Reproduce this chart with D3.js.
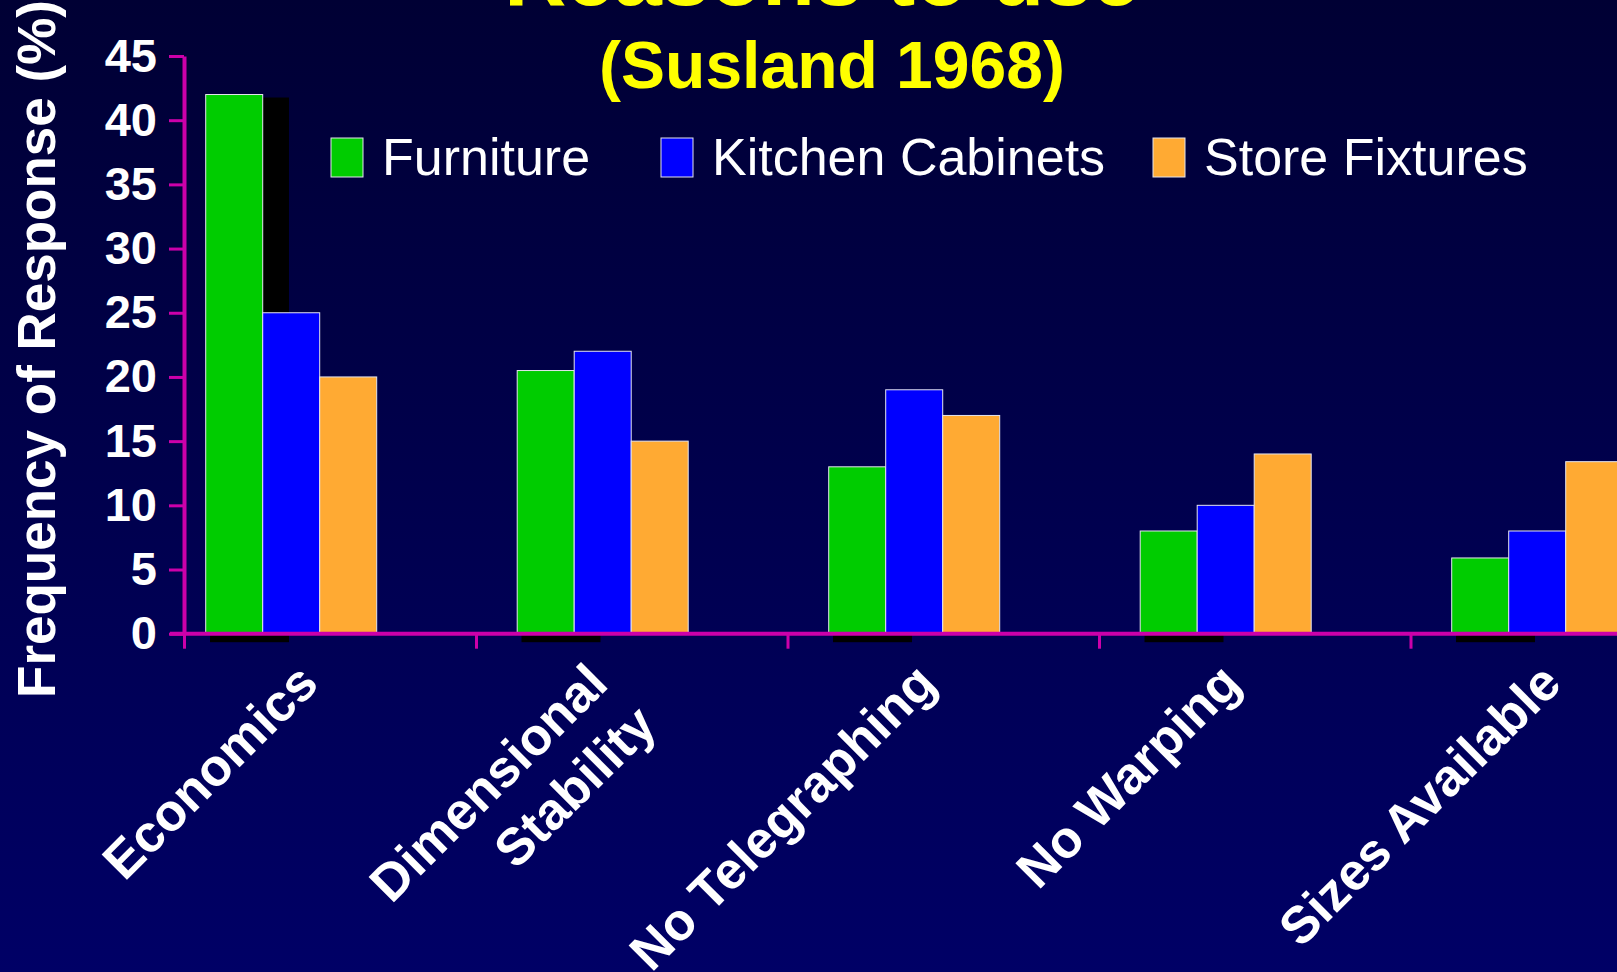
<!DOCTYPE html>
<html>
<head>
<meta charset="utf-8">
<script src="https://cdn.jsdelivr.net/npm/d3@7"></script>
<style>
  body { margin: 0; background: #000040; overflow: hidden; }
  svg { display: block; }
  text { font-family: "Liberation Sans", Arial, sans-serif; }
</style>
</head>
<body>
<div id="chart"></div>
<script>
// values (% of responses)
var categories = ["Economics", "Dimensional\nStability", "No Telegraphing", "No Warping", "Sizes Available"];
var series = ["Furniture", "Kitchen Cabinets", "Store Fixtures"];
var furniture = [42, 20.5, 13, 8, 5.9];
var kitchenCabinets = [25, 22, 19, 10, 8];
var storeFixtures = [20, 15, 17, 14, 13.4];
var yTicks = [0, 5, 10, 15, 20, 25, 30, 35, 40, 45];
var titleLines = ["Reasons to use", "(Susland 1968)"];
var yLabel = "Frequency of Response (%)";

var colors = ["#00cc00", "#0000ff", "#ffaa33"],
    axisColor = "#cc00aa";

var w = 1617,
    h = 972,
    step = 311.5,
    left = 165;

// small sideways nudge for the slanted labels (the slide isn't quite regular)
var labelNudge = [0, -22, -5, -12, -3];

// table for d3, one row per category
var rows = categories.map(function(c, i) {
  return { cat: c, values: [furniture[i], kitchenCabinets[i], storeFixtures[i]] };
});

var svg = d3.select("#chart").append("svg")
  .attr("width", w)
  .attr("height", h);

//background gradient, dark navy
var grad = svg.append("defs").append("linearGradient")
  .attr("id", "bg")
  .attr("x1", 0).attr("y1", 0).attr("x2", 0).attr("y2", 1);
grad.append("stop").attr("offset", "0%").attr("stop-color", "#000034");
grad.append("stop").attr("offset", "100%").attr("stop-color", "#000066");
svg.append("rect").attr("width", w).attr("height", h).attr("fill", "url(#bg)");

var x0 = d3.scaleBand()
  .domain(categories)
  .range([left, left + step * categories.length]);

var x1 = d3.scaleBand()
  .domain(series)
  .range([40.7, 40.7 + 171]);

var y = d3.scaleLinear()
  .domain([0, 45])
  .range([633.7, 56]);

// black "shadow" behind the furniture bars (the old slide has it)
svg.append("g").selectAll("rect")
  .data(rows)
  .enter()
  .append("rect")
    .attr("x", function(d) { return x0(d.cat) + 45; })
    .attr("y", function(d) { return y(d.values[0]) + 3; })
    .attr("width", 79)
    .attr("height", function(d) { return y(0) + 8.5 - (y(d.values[0]) + 3); })
    .attr("fill", "#000");

// bars
var groups = svg.append("g").selectAll("g")
  .data(rows)
  .enter()
  .append("g")
    .attr("transform", function(d) { return "translate(" + x0(d.cat) + ",0)"; });

groups.selectAll("rect")
  .data(function(d) { return d.values.map(function(v, i) { return { key: series[i], value: v, i: i }; }); })
  .enter()
  .append("rect")
    .attr("x", function(d) { return x1(d.key); })
    .attr("y", function(d) { return y(d.value); })
    .attr("width", x1.bandwidth())
    .attr("height", function(d) { return y(0) - y(d.value); })
    .attr("fill", function(d) { return colors[d.i]; })
    .style("stroke", "#e4e4ee")
    .style("stroke-width", 1);

// x axis line + category ticks
svg.append("line")
  .attr("x1", 170).attr("x2", w)
  .attr("y1", y(0)).attr("y2", y(0))
  .style("stroke", axisColor)
  .style("stroke-width", 4);

svg.append("g").selectAll("line")
  .data(categories.slice(1))
  .enter()
  .append("line")
    .attr("x1", function(d) { return x0(d); })
    .attr("x2", function(d) { return x0(d); })
    .attr("y1", y(0))
    .attr("y2", y(0) + 15)
    .style("stroke", axisColor)
    .style("stroke-width", 3);

// y axis
var yAxis = svg.append("g")
  .attr("transform", "translate(184,0)")
  .call(d3.axisLeft(y).tickValues(yTicks).tickSize(15).tickPadding(12).tickSizeOuter(0));

yAxis.select(".domain").style("stroke", axisColor).style("stroke-width", 4);
yAxis.selectAll(".tick line").style("stroke", axisColor).style("stroke-width", 3);
yAxis.selectAll(".tick text")
  .style("fill", "#fff")
  .style("font-size", "47px")
  .style("font-weight", "bold")
  .style("font-family", "'Liberation Sans', Arial, sans-serif");

// y axis runs a bit below the baseline
svg.append("line")
  .attr("x1", 184.5).attr("x2", 184.5)
  .attr("y1", y(0)).attr("y2", y(0) + 15)
  .style("stroke", axisColor)
  .style("stroke-width", 3);

// slanted category labels
var labels = svg.append("g").selectAll("text")
  .data(categories)
  .enter()
  .append("text")
    .attr("transform", function(d, i) {
      return "translate(" + (x0(d) + x0.bandwidth() / 2 + labelNudge[i]) + ",686) rotate(-45)";
    })
    .attr("text-anchor", "end")
    .style("fill", "#fff")
    .style("font-size", "52px")
    .style("font-weight", "bold");

labels.selectAll("tspan")
  .data(function(d) { return d.split("\n"); })
  .enter()
  .append("tspan")
    .attr("x", function(d, i) { return i === 0 ? 0 : 5; })
    .attr("dy", function(d, i) { return i === 0 ? 0 : 64; })
    .text(function(d) { return d; });

// y label
svg.append("text")
  .attr("transform", "translate(55,349) rotate(-90)")
  .attr("text-anchor", "middle")
  .style("fill", "#fff")
  .style("font-size", "53px")
  .style("font-weight", "bold")
  .text(yLabel);

// legend
var legendX = [331, 661, 1153];
var legend = svg.append("g").selectAll("g")
  .data(series)
  .enter()
  .append("g")
    .attr("transform", function(d, i) { return "translate(" + legendX[i] + ",138)"; });

legend.append("rect")
  .attr("width", 32)
  .attr("height", 39)
  .attr("fill", function(d, i) { return colors[i]; })
  .style("stroke", "#e4e4ee")
  .style("stroke-width", 1);

legend.append("text")
  .attr("x", 51)
  .attr("y", 37)
  .style("fill", "#fff")
  .style("font-size", "52px")
  .text(function(d) { return d; });

// title, first line is mostly off the top of the slide
svg.append("text")
  .attr("x", 822).attr("y", 5)
  .attr("text-anchor", "middle")
  .style("fill", "#ffff00")
  .style("font-size", "86px")
  .style("font-weight", "bold")
  .text(titleLines[0]);

svg.append("text")
  .attr("x", 832).attr("y", 88)
  .attr("text-anchor", "middle")
  .style("fill", "#ffff00")
  .style("font-size", "66px")
  .style("font-weight", "bold")
  .text(titleLines[1]);
</script>
</body>
</html>
